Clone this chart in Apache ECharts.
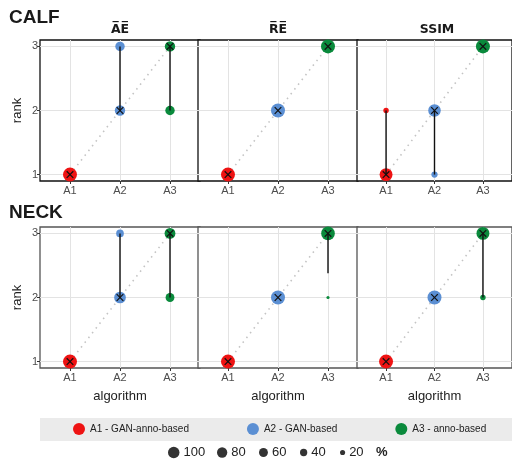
<!DOCTYPE html>
<html>
<head>
<meta charset="utf-8">
<script src="https://cdn.jsdelivr.net/npm/echarts@6/dist/echarts.min.js"></script>
<style>
  html, body { margin: 0; padding: 0; background: #fff; }
  #main { width: 512px; height: 468px; }
</style>
</head>
<body>
<div id="main"></div>
<script>
// algorithms and their colours
var algorithms = ['A1 - GAN-anno-based', 'A2 - GAN-based', 'A3 - anno-based'];
var algColors = ['#ee1313', '#5b8fd3', '#0a8a3c'];
var xLabels = ['A1', 'A2', 'A3'];
var rankTicks = [1, 2, 3];

// share (%) of cases at rank 1, 2, 3 for A1, A2, A3
var calfAE   = [[100, 0, 0], [0, 55, 45], [0, 45, 55]];
var calfRE   = [[100, 0, 0], [0, 100, 0], [0, 0, 100]];
var calfSSIM = [[85, 15, 0], [20, 80, 0], [0, 0, 100]];
var neckAE   = [[100, 0, 0], [0, 70, 30], [0, 40, 60]];
var neckRE   = [[100, 0, 0], [0, 100, 0], [0, 5, 95]];
var neckSSIM = [[100, 0, 0], [0, 100, 0], [0, 15, 85]];

// vertical range [low, high] per algorithm (null = none)
var calfAERange   = [null, [2, 3], [2, 3]];
var calfRERange   = [null, null, null];
var calfSSIMRange = [[1, 2], [1, 2], null];
var neckAERange   = [null, [2, 3], [2, 3]];
var neckRERange   = [null, null, [2.38, 3]];
var neckSSIMRange = [null, null, [2, 3]];

// rank marked with a cross
var markRanks = [1, 2, 3];

// size legend
var sizeSteps = [100, 80, 60, 40, 20];

var rows = ['CALF', 'NECK'];
var metrics = ['A\u0305E\u0305', 'R\u0305E\u0305', 'SSIM'];
var shares = [[calfAE, calfRE, calfSSIM], [neckAE, neckRE, neckSSIM]];
var ranges = [[calfAERange, calfRERange, calfSSIMRange], [neckAERange, neckRERange, neckSSIMRange]];

var colLeft = [40, 198, 357];
var rowTop = [40, 227];
var panelW = 160, panelH = 141;

function dotSize(p) { return 14 * Math.sqrt(p / 100); }

var grids = [], xAxes = [], yAxes = [], series = [], titles = [];

titles.push({ text: 'CALF', left: 9, top: 8, padding: 0,
  textStyle: { fontSize: 19, fontWeight: 'bold', color: '#1a1a1a', fontFamily: 'Liberation Sans' } });
titles.push({ text: 'NECK', left: 9, top: 203, padding: 0,
  textStyle: { fontSize: 19, fontWeight: 'bold', color: '#1a1a1a', fontFamily: 'Liberation Sans' } });

rows.forEach(function (row, r) {
  metrics.forEach(function (m, c) {
    var idx = r * 3 + c;
    grids.push({
      left: colLeft[c], top: rowTop[r], width: panelW, height: panelH,
      show: true, backgroundColor: '#fff',
      borderColor: r === 0 ? '#111' : '#555', borderWidth: 1.3
    });
    if (r === 0) {
      titles.push({
        text: m, left: colLeft[c] + panelW / 2, top: 23, textAlign: 'center', padding: 0,
        textStyle: { fontSize: 12.5, fontWeight: 'bold', color: '#1a1a1a', fontFamily: 'DejaVu Sans' }
      });
    }
    xAxes.push({
      type: 'value', gridIndex: idx, min: 0.4, max: 3.6,
      name: r === 1 ? 'algorithm' : '', nameLocation: 'middle', nameGap: 22,
      nameTextStyle: { fontSize: 13, color: '#222', fontFamily: 'Liberation Sans' },
      axisLine: { show: false },
      axisTick: { show: true, length: 3, customValues: [1, 2, 3], lineStyle: { color: '#333' } },
      axisLabel: { customValues: [1, 2, 3], margin: 4, fontSize: 11, color: '#4d4d4d',
        fontFamily: 'Liberation Sans', formatter: function (v) { return xLabels[v - 1]; } },
      splitLine: { show: true, lineStyle: { color: '#e3e3e3', width: 1 } }
    });
    yAxes.push({
      type: 'value', gridIndex: idx, min: 0.9, max: 3.1,
      name: c === 0 ? 'rank' : '', nameLocation: 'middle', nameGap: 16, nameRotate: 90,
      nameTextStyle: { fontSize: 13, color: '#222', fontFamily: 'Liberation Sans' },
      axisLine: { show: false },
      axisTick: { show: c === 0, length: 3, customValues: rankTicks, lineStyle: { color: '#333' } },
      axisLabel: { show: c === 0, customValues: rankTicks, margin: 2, fontSize: 11, color: '#4d4d4d',
        fontFamily: 'Liberation Sans' },
      splitLine: { show: true, lineStyle: { color: '#e3e3e3', width: 1 } }
    });

    // diagonal reference
    series.push({
      type: 'line', xAxisIndex: idx, yAxisIndex: idx, symbol: 'none', silent: true,
      data: [[1, 1], [3, 3]],
      lineStyle: { color: '#c4c4c4', width: 1.6, type: [1.5, 4.5] }, z: 2
    });

    // dots per algorithm
    algorithms.forEach(function (alg, a) {
      var pts = [];
      shares[r][c][a].forEach(function (p, k) {
        if (p > 0) pts.push([a + 1, k + 1, p]);
      });
      series.push({
        type: 'scatter', name: alg, xAxisIndex: idx, yAxisIndex: idx,
        data: pts, symbol: 'circle',
        symbolSize: function (v) { return dotSize(v[2]); },
        itemStyle: { color: algColors[a], opacity: 1 }, z: 3
      });
    });

    // range lines
    var rangeData = [];
    ranges[r][c].forEach(function (rg, a) {
      if (rg) rangeData.push([a + 1, rg[0], rg[1]]);
    });
    series.push({
      type: 'custom', xAxisIndex: idx, yAxisIndex: idx, silent: true,
      data: rangeData, encode: { x: 0, y: [1, 2] }, z: 4,
      renderItem: function (params, api) {
        var p1 = api.coord([api.value(0), api.value(1)]);
        var p2 = api.coord([api.value(0), api.value(2)]);
        return { type: 'line', shape: { x1: p1[0], y1: p1[1], x2: p2[0], y2: p2[1] },
          style: { stroke: '#111', lineWidth: 1.4 } };
      }
    });

    // crosses
    series.push({
      type: 'custom', xAxisIndex: idx, yAxisIndex: idx, silent: true,
      data: markRanks.map(function (rk, a) { return [a + 1, rk]; }),
      encode: { x: 0, y: 1 }, z: 5,
      renderItem: function (params, api) {
        var p = api.coord([api.value(0), api.value(1)]);
        var h = 3.3;
        return { type: 'group', children: [
          { type: 'line', shape: { x1: p[0] - h, y1: p[1] - h, x2: p[0] + h, y2: p[1] + h }, style: { stroke: '#111', lineWidth: 1.2 } },
          { type: 'line', shape: { x1: p[0] - h, y1: p[1] + h, x2: p[0] + h, y2: p[1] - h }, style: { stroke: '#111', lineWidth: 1.2 } }
        ] };
      }
    });
  });
});

// dummy series for the size legend
sizeSteps.forEach(function (s) {
  series.push({ type: 'scatter', name: String(s), xAxisIndex: 0, yAxisIndex: 0, data: [],
    itemStyle: { color: '#000' } });
});

var legends = [{
  data: algorithms, left: 73, top: 423, padding: 0, itemGap: 58,
  icon: 'circle', itemWidth: 12, itemHeight: 12, selectedMode: false,
  textStyle: { fontSize: 10, color: '#222', fontFamily: 'Liberation Sans' }
}];
var sizeLeft = [168, 217, 259, 300, 340];
sizeSteps.forEach(function (s, i) {
  var d = 11.5 * Math.sqrt(s / 100);
  legends.push({
    data: [{ name: String(s), itemStyle: { color: '#000' } }], left: sizeLeft[i], top: 446, padding: 0,
    icon: 'circle', itemWidth: d, itemHeight: d, selectedMode: false,
    textStyle: { fontSize: 13, color: '#222', fontFamily: 'Liberation Sans', padding: [0, 0, 0, -1] }
  });
});

var myChart = echarts.init(document.getElementById('main'), null, { renderer: 'canvas' });
myChart.setOption({
  animation: false,
  backgroundColor: '#fff',
  title: titles,
  legend: legends,
  grid: grids,
  xAxis: xAxes,
  yAxis: yAxes,
  series: series,
  graphic: [
    { type: 'rect', shape: { x: 40, y: 418, width: 472, height: 23 }, style: { fill: '#ebebeb' }, z: -10 },
    { type: 'text', left: 376, top: 446, style: { text: '%', fontSize: 13, fontWeight: 'bold', fill: '#222', fontFamily: 'Liberation Sans' } }
  ]
});
</script>
</body>
</html>
